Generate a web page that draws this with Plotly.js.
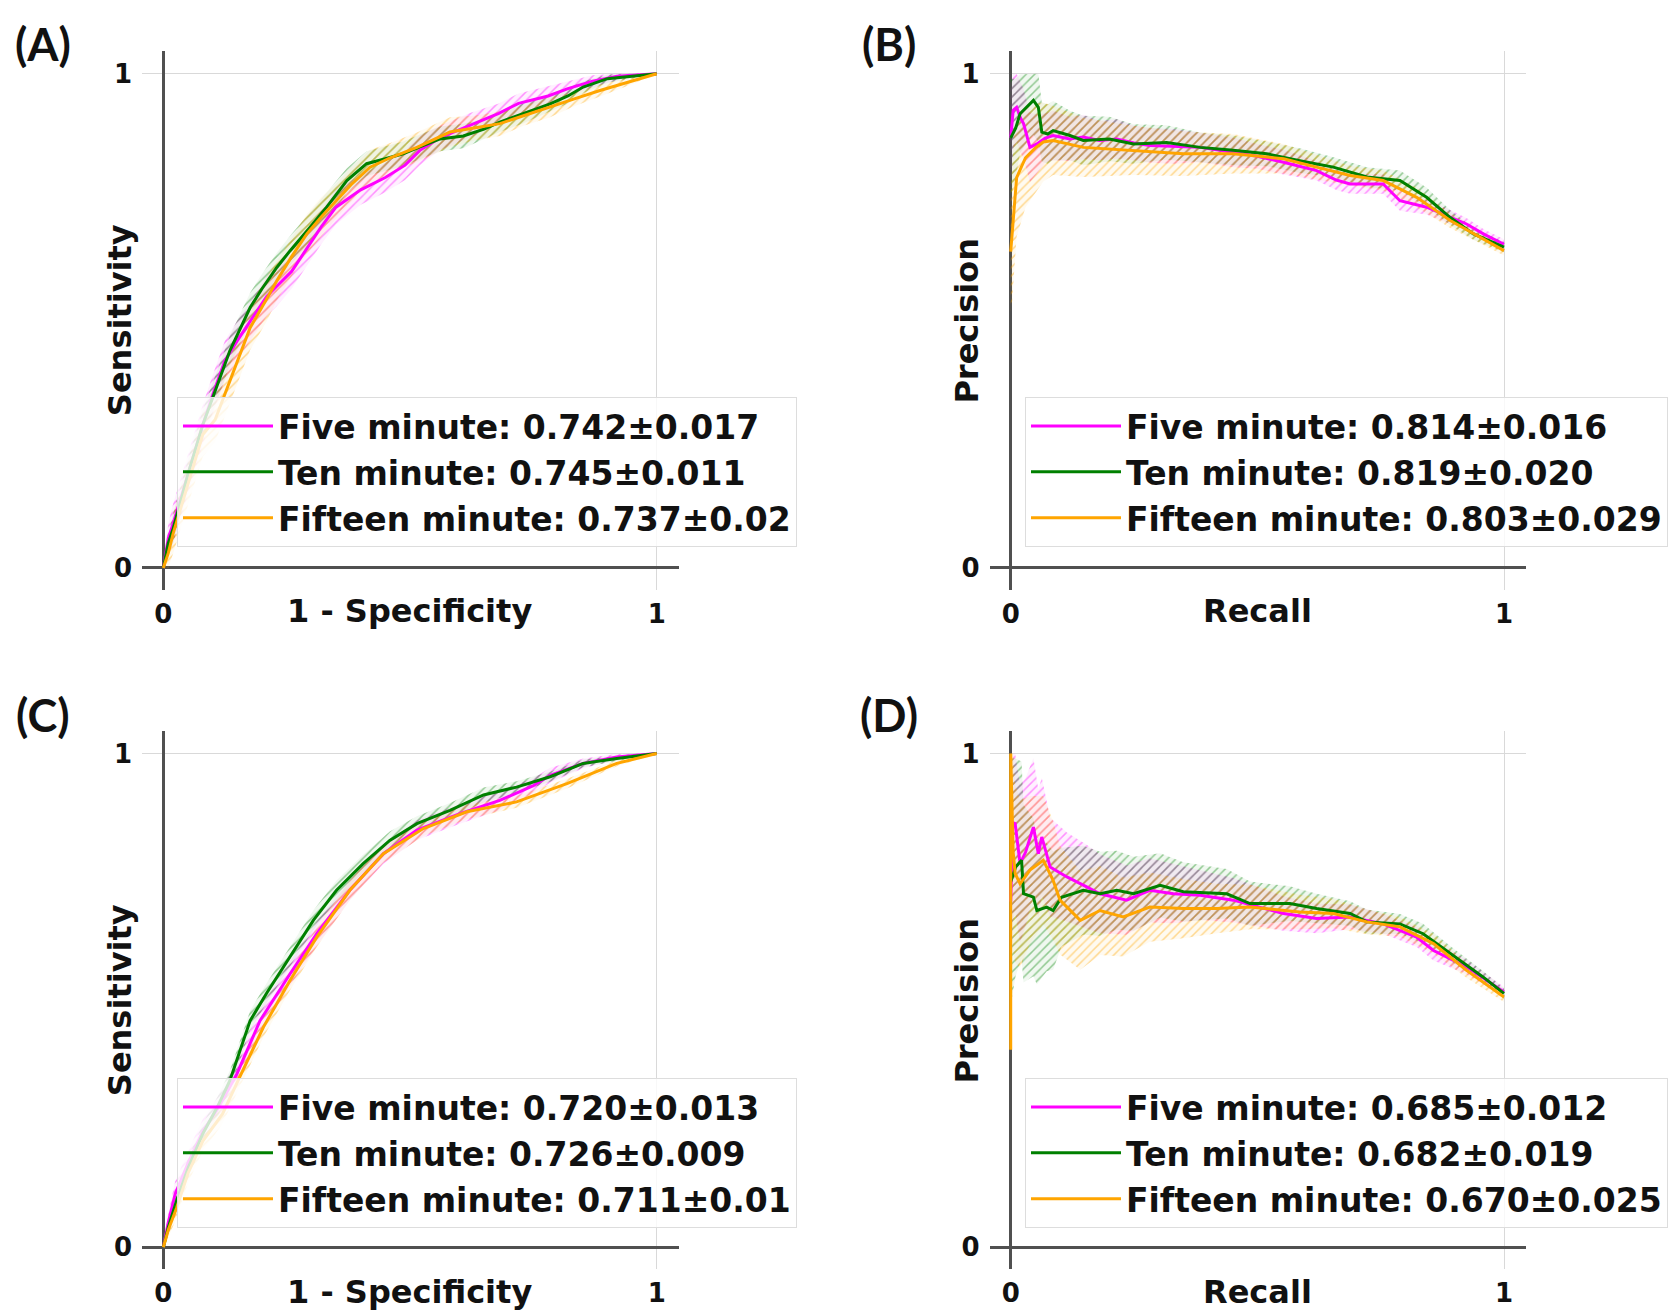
<!DOCTYPE html>
<html><head><meta charset="utf-8">
<script src="https://cdn.plot.ly/plotly-3.0.1.min.js"></script>
<style>html,body{margin:0;padding:0;background:#fff}#chart{width:1674px;height:1311px}</style>
</head><body><div id="chart"></div>
<script>
// ---- series / labels ----
const seriesNames = ['Five minute', 'Ten minute', 'Fifteen minute'];
const seriesColors = ['#ff00ff', '#008000', '#ffa500'];
const panelLabels = ['(A)', '(B)', '(C)', '(D)'];
const xTitles = ['1 - Specificity', 'Recall', '1 - Specificity', 'Recall'];
const yTitles = ['Sensitivity', 'Precision', 'Sensitivity', 'Precision'];
const tickVals = [0, 1];
const tickText = ['0', '1'];
const scoresA = ['0.742±0.017', '0.745±0.011', '0.737±0.02'];
const scoresB = ['0.814±0.016', '0.819±0.020', '0.803±0.029'];
const scoresC = ['0.720±0.013', '0.726±0.009', '0.711±0.01'];
const scoresD = ['0.685±0.012', '0.682±0.019', '0.670±0.025'];

// ---- Panel A (ROC) ----
const fiveA_x = [0, 0.01, 0.02, 0.05, 0.08, 0.10, 0.125, 0.15, 0.176, 0.21, 0.23, 0.26, 0.29, 0.32, 0.35, 0.40, 0.45, 0.49, 0.52, 0.56, 0.62, 0.68, 0.72, 0.78, 0.82, 0.87, 0.92, 0.96, 1];
const fiveA_y = [0, 0.06, 0.09, 0.19, 0.29, 0.35, 0.42, 0.46, 0.50, 0.55, 0.57, 0.60, 0.645, 0.69, 0.73, 0.765, 0.79, 0.815, 0.845, 0.87, 0.895, 0.92, 0.94, 0.955, 0.97, 0.985, 0.995, 0.998, 1];
const fiveA_err = [0, 0.03, 0.04, 0.04, 0.04, 0.04, 0.04, 0.04, 0.04, 0.04, 0.04, 0.035, 0.035, 0.035, 0.035, 0.03, 0.03, 0.03, 0.03, 0.025, 0.025, 0.02, 0.02, 0.02, 0.015, 0.012, 0.008, 0.004, 0];
const tenA_x = [0, 0.01, 0.02, 0.05, 0.08, 0.10, 0.135, 0.176, 0.20, 0.23, 0.257, 0.297, 0.331, 0.372, 0.412, 0.45, 0.486, 0.52, 0.561, 0.608, 0.65, 0.682, 0.73, 0.784, 0.82, 0.851, 0.90, 0.95, 1];
const tenA_y = [0, 0.05, 0.08, 0.19, 0.29, 0.345, 0.44, 0.527, 0.565, 0.608, 0.642, 0.689, 0.73, 0.784, 0.818, 0.828, 0.838, 0.852, 0.868, 0.874, 0.888, 0.902, 0.92, 0.939, 0.955, 0.973, 0.99, 0.995, 1];
const tenA_err = [0, 0.02, 0.03, 0.03, 0.03, 0.03, 0.03, 0.03, 0.03, 0.03, 0.03, 0.03, 0.03, 0.025, 0.025, 0.025, 0.025, 0.025, 0.025, 0.025, 0.02, 0.02, 0.02, 0.015, 0.015, 0.012, 0.008, 0.005, 0];
const fifteenA_x = [0, 0.01, 0.02, 0.05, 0.08, 0.105, 0.128, 0.15, 0.176, 0.21, 0.23, 0.26, 0.291, 0.32, 0.351, 0.38, 0.419, 0.46, 0.514, 0.581, 0.63, 0.682, 0.73, 0.784, 0.83, 0.885, 0.94, 1];
const fifteenA_y = [0, 0.03, 0.07, 0.17, 0.27, 0.30, 0.36, 0.42, 0.486, 0.545, 0.581, 0.63, 0.676, 0.71, 0.743, 0.775, 0.811, 0.83, 0.851, 0.882, 0.89, 0.899, 0.915, 0.932, 0.948, 0.966, 0.983, 1];
const fifteenA_err = [0, 0.03, 0.04, 0.045, 0.045, 0.045, 0.045, 0.045, 0.045, 0.045, 0.04, 0.04, 0.04, 0.04, 0.035, 0.035, 0.035, 0.03, 0.03, 0.03, 0.025, 0.025, 0.02, 0.02, 0.015, 0.012, 0.008, 0];

// ---- Panel B (Precision-Recall) ----
const fiveB_x = [0, 0.005, 0.012, 0.02, 0.026, 0.039, 0.053, 0.07, 0.086, 0.12, 0.147, 0.18, 0.215, 0.25, 0.282, 0.33, 0.384, 0.451, 0.50, 0.553, 0.62, 0.66, 0.688, 0.755, 0.789, 0.843, 0.88, 0.924, 0.96, 1];
const fiveB_y = [0.87, 0.926, 0.932, 0.91, 0.899, 0.851, 0.858, 0.87, 0.875, 0.868, 0.872, 0.865, 0.868, 0.86, 0.855, 0.853, 0.851, 0.841, 0.833, 0.821, 0.804, 0.785, 0.777, 0.777, 0.743, 0.73, 0.715, 0.696, 0.675, 0.655];
const fiveB_err = [0.1, 0.08, 0.07, 0.07, 0.07, 0.07, 0.06, 0.05, 0.05, 0.045, 0.045, 0.04, 0.04, 0.035, 0.035, 0.035, 0.03, 0.03, 0.025, 0.025, 0.02, 0.02, 0.02, 0.02, 0.02, 0.015, 0.015, 0.012, 0.01, 0.01];
const tenB_x = [0, 0.01, 0.019, 0.035, 0.046, 0.056, 0.063, 0.075, 0.086, 0.12, 0.147, 0.2, 0.249, 0.316, 0.384, 0.451, 0.519, 0.586, 0.654, 0.722, 0.789, 0.843, 0.891, 0.938, 1];
const tenB_y = [0.87, 0.89, 0.919, 0.935, 0.946, 0.932, 0.882, 0.878, 0.885, 0.875, 0.865, 0.868, 0.858, 0.861, 0.851, 0.845, 0.838, 0.824, 0.811, 0.791, 0.784, 0.75, 0.709, 0.676, 0.649];
const tenB_err = [0.12, 0.1, 0.08, 0.07, 0.07, 0.07, 0.06, 0.06, 0.06, 0.05, 0.05, 0.045, 0.04, 0.035, 0.03, 0.03, 0.025, 0.025, 0.02, 0.02, 0.02, 0.02, 0.015, 0.012, 0.01];
const fifteenB_x = [0, 0.003, 0.007, 0.012, 0.03, 0.05, 0.066, 0.086, 0.147, 0.249, 0.35, 0.451, 0.553, 0.62, 0.688, 0.755, 0.823, 0.891, 0.95, 1];
const fifteenB_y = [0.64, 0.68, 0.74, 0.79, 0.83, 0.85, 0.862, 0.865, 0.851, 0.845, 0.838, 0.838, 0.828, 0.811, 0.794, 0.784, 0.75, 0.703, 0.67, 0.642];
const fifteenB_err = [0.12, 0.14, 0.14, 0.12, 0.1, 0.09, 0.08, 0.07, 0.06, 0.05, 0.045, 0.04, 0.03, 0.025, 0.02, 0.02, 0.02, 0.015, 0.012, 0.01];

// ---- Panel C (ROC) ----
const fiveC_x = [0, 0.01, 0.024, 0.05, 0.08, 0.11, 0.149, 0.196, 0.257, 0.311, 0.378, 0.446, 0.514, 0.601, 0.682, 0.75, 0.784, 0.851, 0.919, 1];
const fiveC_y = [0, 0.05, 0.108, 0.17, 0.235, 0.28, 0.351, 0.459, 0.554, 0.635, 0.723, 0.797, 0.845, 0.878, 0.905, 0.935, 0.956, 0.98, 0.993, 1];
const fiveC_err = [0, 0.02, 0.025, 0.025, 0.025, 0.025, 0.025, 0.025, 0.025, 0.025, 0.02, 0.02, 0.02, 0.02, 0.02, 0.015, 0.015, 0.01, 0.006, 0];
const tenC_x = [0, 0.01, 0.027, 0.05, 0.08, 0.11, 0.135, 0.176, 0.209, 0.257, 0.304, 0.351, 0.405, 0.459, 0.514, 0.581, 0.649, 0.716, 0.784, 0.851, 0.919, 1];
const tenC_y = [0, 0.04, 0.095, 0.16, 0.23, 0.285, 0.338, 0.459, 0.514, 0.588, 0.662, 0.723, 0.777, 0.824, 0.858, 0.885, 0.916, 0.932, 0.953, 0.98, 0.99, 1];
const tenC_err = [0, 0.015, 0.02, 0.02, 0.02, 0.02, 0.02, 0.02, 0.02, 0.02, 0.02, 0.02, 0.018, 0.018, 0.015, 0.015, 0.015, 0.012, 0.01, 0.008, 0.005, 0];
const fifteenC_x = [0, 0.01, 0.027, 0.05, 0.08, 0.12, 0.155, 0.203, 0.257, 0.311, 0.378, 0.446, 0.527, 0.615, 0.716, 0.818, 0.919, 1];
const fifteenC_y = [0, 0.035, 0.08, 0.15, 0.215, 0.27, 0.345, 0.446, 0.541, 0.628, 0.723, 0.797, 0.848, 0.882, 0.902, 0.939, 0.98, 1];
const fifteenC_err = [0, 0.015, 0.02, 0.02, 0.02, 0.02, 0.02, 0.02, 0.02, 0.02, 0.02, 0.018, 0.015, 0.015, 0.012, 0.01, 0.006, 0];

// ---- Panel D (Precision-Recall) ----
const fiveD_x = [0, 0.004, 0.009, 0.019, 0.03, 0.046, 0.056, 0.063, 0.08, 0.114, 0.154, 0.181, 0.235, 0.282, 0.33, 0.384, 0.451, 0.553, 0.62, 0.688, 0.755, 0.823, 0.857, 0.924, 1];
const fiveD_y = [0.7, 0.86, 0.858, 0.777, 0.8, 0.851, 0.797, 0.831, 0.77, 0.75, 0.73, 0.716, 0.703, 0.723, 0.716, 0.713, 0.703, 0.676, 0.666, 0.669, 0.655, 0.628, 0.601, 0.568, 0.517];
const fiveD_err = [0.25, 0.2, 0.18, 0.16, 0.15, 0.14, 0.13, 0.12, 0.1, 0.09, 0.085, 0.08, 0.07, 0.065, 0.06, 0.05, 0.045, 0.035, 0.03, 0.025, 0.02, 0.02, 0.02, 0.015, 0.01];
const tenD_x = [0, 0.01, 0.022, 0.026, 0.046, 0.053, 0.073, 0.086, 0.103, 0.147, 0.181, 0.215, 0.249, 0.303, 0.35, 0.438, 0.485, 0.566, 0.62, 0.688, 0.722, 0.789, 0.836, 0.891, 0.958, 1];
const tenD_y = [0.74, 0.77, 0.784, 0.716, 0.709, 0.682, 0.689, 0.682, 0.709, 0.723, 0.716, 0.723, 0.716, 0.733, 0.72, 0.716, 0.696, 0.696, 0.686, 0.676, 0.659, 0.655, 0.635, 0.595, 0.547, 0.514];
const tenD_err = [0.25, 0.22, 0.2, 0.18, 0.16, 0.15, 0.13, 0.12, 0.1, 0.09, 0.085, 0.08, 0.075, 0.065, 0.06, 0.05, 0.045, 0.035, 0.03, 0.025, 0.025, 0.02, 0.02, 0.015, 0.012, 0.01];
const fifteenD_x = [0, 0, 0.005, 0.009, 0.019, 0.039, 0.066, 0.086, 0.1, 0.141, 0.181, 0.228, 0.282, 0.35, 0.418, 0.485, 0.586, 0.654, 0.722, 0.789, 0.857, 0.924, 1];
const fifteenD_y = [0.4, 1.0, 0.8, 0.757, 0.736, 0.764, 0.784, 0.743, 0.703, 0.662, 0.682, 0.669, 0.689, 0.686, 0.686, 0.689, 0.679, 0.676, 0.659, 0.649, 0.615, 0.561, 0.507];
const fifteenD_err = [0, 0, 0.2, 0.18, 0.17, 0.15, 0.13, 0.12, 0.11, 0.1, 0.09, 0.08, 0.07, 0.06, 0.05, 0.045, 0.035, 0.03, 0.025, 0.02, 0.02, 0.015, 0.01];

// ---- assemble ----
const panels = [
  {xa: 'x',  ya: 'y',  lg: 'legend',  scores: scoresA, series: [[fiveA_x, fiveA_y, fiveA_err], [tenA_x, tenA_y, tenA_err], [fifteenA_x, fifteenA_y, fifteenA_err]]},
  {xa: 'x2', ya: 'y2', lg: 'legend2', scores: scoresB, series: [[fiveB_x, fiveB_y, fiveB_err], [tenB_x, tenB_y, tenB_err], [fifteenB_x, fifteenB_y, fifteenB_err]]},
  {xa: 'x3', ya: 'y3', lg: 'legend3', scores: scoresC, series: [[fiveC_x, fiveC_y, fiveC_err], [tenC_x, tenC_y, tenC_err], [fifteenC_x, fifteenC_y, fifteenC_err]]},
  {xa: 'x4', ya: 'y4', lg: 'legend4', scores: scoresD, series: [[fiveD_x, fiveD_y, fiveD_err], [tenD_x, tenD_y, tenD_err], [fifteenD_x, fifteenD_y, fifteenD_err]]}
];

function rgba(hex, a) {
  const n = parseInt(hex.slice(1), 16);
  return 'rgba(' + ((n >> 16) & 255) + ',' + ((n >> 8) & 255) + ',' + (n & 255) + ',' + a + ')';
}
const clamp = v => Math.max(0, Math.min(1, v));

const traces = [];
panels.forEach(p => {
  p.series.forEach((s, i) => {
    const [xs, ys, es] = s;
    const c = seriesColors[i];
    traces.push({x: xs, y: ys.map((v, k) => clamp(v - es[k])), xaxis: p.xa, yaxis: p.ya, mode: 'lines',
      line: {width: 0, color: c}, showlegend: false, hoverinfo: 'skip'});
    traces.push({x: xs, y: ys.map((v, k) => clamp(v + es[k])), xaxis: p.xa, yaxis: p.ya, mode: 'lines',
      line: {width: 0, color: c}, fill: 'tonexty', fillcolor: rgba(c, 0.08),
      fillpattern: {shape: '/', size: 6, solidity: 0.25, fgcolor: rgba(c, 0.4), bgcolor: rgba(c, 0.06)},
      showlegend: false, hoverinfo: 'skip'});
  });
  p.series.forEach((s, i) => {
    traces.push({x: s[0], y: s[1], xaxis: p.xa, yaxis: p.ya, mode: 'lines',
      line: {width: 3, color: seriesColors[i]}, name: seriesNames[i] + ': ' + p.scores[i],
      legend: p.lg, showlegend: true});
  });
});

const FONT = 'DejaVu Sans, Verdana, sans-serif';
const tickFont = {family: FONT, size: 26, color: '#111', weight: 'bold'};
const colX = [[0.08489, 0.40556], [0.59110, 0.91171]];
const rowY = [[0.54981, 0.96072], [0.03166, 0.44218]];

function axis(domain, anchor, range, standoff, zw) {
  return {domain: domain, anchor: anchor, range: range, tickmode: 'array', tickvals: tickVals, ticktext: tickText,
    showgrid: true, gridcolor: '#d9d9d9', gridwidth: 1, zeroline: true, zerolinecolor: '#505050', zerolinewidth: zw,
    showline: false, ticks: '', tickfont: tickFont, ticklabelstandoff: standoff, fixedrange: true};
}

const layout = {
  width: 1674, height: 1311, paper_bgcolor: '#fff', plot_bgcolor: 'rgba(0,0,0,0)',
  margin: {l: 0, r: 0, t: 0, b: 0, autoexpand: false},
  font: {family: FONT, color: '#111'},
  annotations: [],
  hovermode: false
};
const legPos = [[0.10573, 0.69718], [0.61231, 0.69718], [0.10573, 0.17773], [0.61231, 0.17773]];
const titleX = [0.2449, 0.7511, 0.2449, 0.7511];
const titleXy = [0.5342, 0.5342, 0.0145, 0.0145];
const ytitleX = [0.07145, 0.5771, 0.07145, 0.5771];
const ytitleY = [0.7555, 0.7555, 0.2368, 0.2368];
const labelPos = [[0.0255, 0.9666], [0.531, 0.9666], [0.0255, 0.4546], [0.531, 0.4546]];

panels.forEach((p, k) => {
  const col = k % 2, row = Math.floor(k / 2);
  const sfx = k === 0 ? '' : String(k + 1);
  layout['xaxis' + sfx] = axis(colX[col], 'y' + sfx, [-0.043, 1.045], 6, 2.5);
  layout['yaxis' + sfx] = axis(rowY[row], 'x' + sfx, [-0.045, 1.045], 9, 3);
  layout[p.lg] = {x: legPos[k][0], y: legPos[k][1], xref: 'paper', yref: 'paper', xanchor: 'left', yanchor: 'top',
    bgcolor: 'rgba(255,255,255,0.8)', bordercolor: '#dddddd', borderwidth: 1, itemwidth: 90, traceorder: 'normal',
    font: {family: FONT, size: 33, color: '#111', weight: 'bold'}, tracegroupgap: 0};
  layout.annotations.push({text: xTitles[k], x: titleX[k], y: titleXy[k], xref: 'paper', yref: 'paper',
    xanchor: 'center', yanchor: 'middle', showarrow: false, font: {family: FONT, size: 32, color: '#111', weight: 'bold'}});
  layout.annotations.push({text: yTitles[k], x: ytitleX[k], y: ytitleY[k], xref: 'paper', yref: 'paper', textangle: -90,
    xanchor: 'center', yanchor: 'middle', showarrow: false, font: {family: FONT, size: 32, color: '#111', weight: 'bold'}});
  layout.annotations.push({text: panelLabels[k], x: labelPos[k][0], y: labelPos[k][1], xref: 'paper', yref: 'paper',
    xanchor: 'center', yanchor: 'middle', showarrow: false, font: {family: 'Lato, Open Sans, sans-serif', size: 45, color: '#111', weight: 'bold'}});
});

Plotly.newPlot('chart', traces, layout, {displayModeBar: false, staticPlot: true});
</script>
</body></html>
